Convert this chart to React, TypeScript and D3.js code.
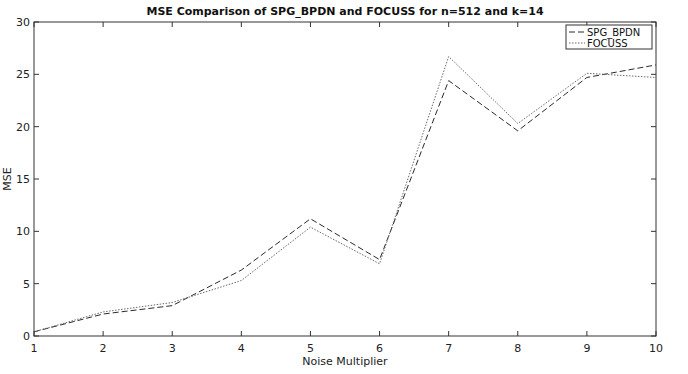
import React from "react";
import * as d3 from "d3";

const noiseMultipliers = [1, 2, 3, 4, 5, 6, 7, 8, 9, 10];
const spgBpdn = [0.4, 2.1, 2.9, 6.3, 11.2, 7.3, 24.4, 19.6, 24.7, 25.9];
const focuss = [0.4, 2.3, 3.2, 5.3, 10.4, 6.9, 26.7, 20.3, 25.1, 24.7];
const xTicks = [1, 2, 3, 4, 5, 6, 7, 8, 9, 10];
const yTicks = [0, 5, 10, 15, 20, 25, 30];
const seriesNames = ["SPG_BPDN", "FOCUSS"];

const W = 688, H = 374;
const M = { left: 34, right: 656, top: 22, bottom: 336 };

export default function App() {
  const x = d3.scaleLinear().domain([1, 10]).range([M.left, M.right]);
  const y = d3.scaleLinear().domain([0, 30]).range([M.bottom, M.top]);
  const line = d3
    .line<number>()
    .x((_, i) => x(noiseMultipliers[i]))
    .y((d) => y(d));
  const font = "'DejaVu Sans', 'Liberation Sans', sans-serif";
  const styles = [
    { stroke: "#2a2a2a", dash: "6,3" },
    { stroke: "#6a6a6a", dash: "1.5,1.5" },
  ];
  const series = [spgBpdn, focuss];
  const tl = 5;
  const lgX = 566, lgY = 25, lgW = 86, lgH = 24;
  return (
    <svg
      width={W}
      height={H}
      style={{ position: "absolute", left: 0, top: 0, background: "#fff" }}
      fontFamily={font}
    >
      <rect x={0} y={0} width={W} height={H} fill="#fff" />
      <text x={(M.left + M.right) / 2} y={15} textAnchor="middle" fontSize={11} fontWeight="bold" fill="#111">
        MSE Comparison of SPG_BPDN and FOCUSS for n=512 and k=14
      </text>
      {series.map((s, i) => (
        <path
          key={i}
          d={line(s) || ""}
          fill="none"
          stroke={styles[i].stroke}
          strokeWidth={1}
          strokeDasharray={styles[i].dash}
        />
      ))}
      <rect
        x={M.left}
        y={M.top}
        width={M.right - M.left}
        height={M.bottom - M.top}
        fill="none"
        stroke="#333"
        strokeWidth={1}
      />
      {xTicks.map((t) => (
        <g key={"x" + t}>
          <line x1={x(t)} x2={x(t)} y1={M.bottom} y2={M.bottom - tl} stroke="#333" />
          <line x1={x(t)} x2={x(t)} y1={M.top} y2={M.top + tl} stroke="#333" />
          <text x={x(t)} y={352} textAnchor="middle" fontSize={11} fill="#222">
            {t}
          </text>
        </g>
      ))}
      {yTicks.map((t) => (
        <g key={"y" + t}>
          <line x1={M.left} x2={M.left + tl} y1={y(t)} y2={y(t)} stroke="#333" />
          <line x1={M.right} x2={M.right - tl} y1={y(t)} y2={y(t)} stroke="#333" />
          <text x={30} y={y(t) + 4} textAnchor="end" fontSize={11} fill="#222">
            {t}
          </text>
        </g>
      ))}
      <text x={345} y={365} textAnchor="middle" fontSize={11} fill="#222">
        Noise Multiplier
      </text>
      <text
        transform={`translate(11, ${(M.top + M.bottom) / 2}) rotate(-90)`}
        textAnchor="middle"
        fontSize={11}
        fill="#222"
      >
        MSE
      </text>
      <rect x={lgX} y={lgY} width={lgW} height={lgH} fill="#fff" stroke="#333" strokeWidth={1} />
      {seriesNames.map((n, i) => (
        <g key={n}>
          <line
            x1={lgX + 3}
            x2={lgX + 19}
            y1={lgY + 7 + i * 11}
            y2={lgY + 7 + i * 11}
            stroke={styles[i].stroke}
            strokeDasharray={styles[i].dash}
          />
          <text x={lgX + 21} y={lgY + 10.5 + i * 11} fontSize={10} fill="#111">
            {n}
          </text>
        </g>
      ))}
    </svg>
  );
}
